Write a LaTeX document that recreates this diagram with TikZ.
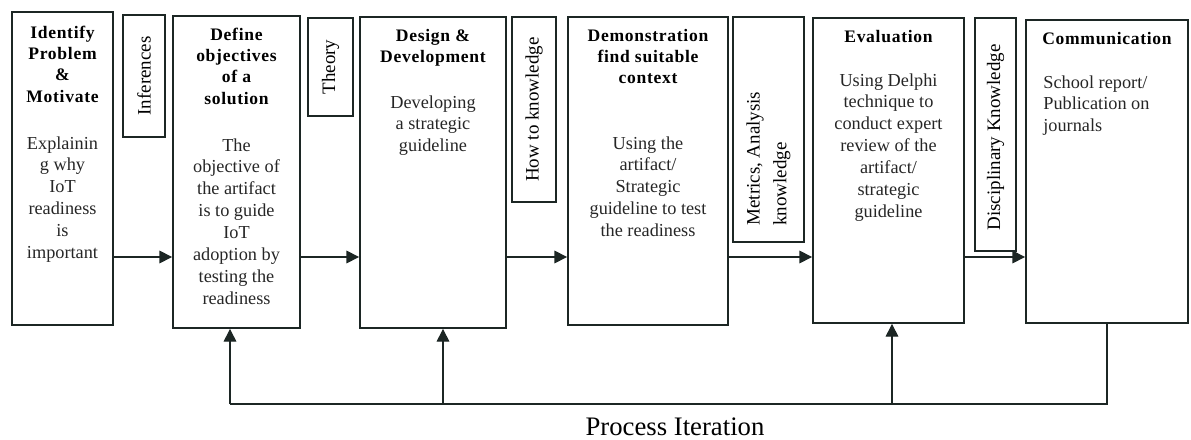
\documentclass[tikz,border=0pt]{standalone}
\usepackage{fontspec}
\setmainfont{Liberation Serif}
\usetikzlibrary{arrows.meta,positioning}

\definecolor{ink}{RGB}{28,38,36}

\begin{document}
\begin{tikzpicture}[
    stage/.style={draw=ink, line width=1.3pt, inner sep=0pt},
    side/.style={draw=ink, line width=1.2pt, inner sep=0pt},
    head/.style={inner sep=0pt, align=center, text=black, font=\fontsize{12.5}{15}\selectfont\bfseries\addfontfeature{LetterSpace=4}},
    body/.style={inner sep=0pt, align=center, text=black!85, font=\fontsize{13}{15.6}\selectfont},
    vlab/.style={rotate=90, inner sep=0pt, align=center, text=black, font=\fontsize{13.5}{19}\selectfont},
    arr/.style={-{Triangle[length=9pt, width=9pt]}, draw=ink, line width=0.9pt},
    loopline/.style={draw=ink, line width=0.8pt}
]
\useasboundingbox (0,0) rectangle (29.775,-11);

% the six stages
\node[stage, minimum width=2.525cm, minimum height=7.825cm] (ident) at (1.5625,-4.2125) {};
\node[stage, minimum width=3.175cm, minimum height=7.8cm] (objct) at (5.9125,-4.3) {};
\node[stage, minimum width=3.65cm, minimum height=7.775cm] (design) at (10.825,-4.3125) {};
\node[stage, minimum width=4.0cm, minimum height=7.7cm] (demo) at (16.2,-4.275) {};
\node[stage, minimum width=3.775cm, minimum height=7.625cm] (evalu) at (22.2125,-4.2625) {};
\node[stage, minimum width=4.05cm, minimum height=7.575cm] (comm) at (27.675,-4.2875) {};

\node[head, below=0.375cm of ident.north] (identh) {Identify\\Problem\\\&\\Motivate};
\node[body, below=3.125cm of ident.north] (identb) {Explainin\\g why\\IoT\\readiness\\is\\important};

\node[head, below=0.325cm of objct.north] (objcth) {Define\\objectives\\of a\\solution};
\node[body, below=3.075cm of objct.north] (objctb) {The\\objective of\\the artifact\\is to guide\\IoT\\adoption by\\testing the\\readiness};

\node[head, below=0.325cm of design.north] (designh) {Design \&\\Development};
\node[body, below=1.975cm of design.north] (designb) {Developing\\a strategic\\guideline};

\node[head, below=0.325cm of demo.north] (demoh) {Demonstration\\find suitable\\context};
\node[body, below=3.0cm of demo.north] (demob) {Using the\\artifact/\\Strategic\\guideline to test\\the readiness};

\node[head, below=0.325cm of evalu.north] (evaluh) {Evaluation};
\node[body, below=1.4cm of evalu.north] (evalub) {Using Delphi\\technique to\\conduct expert\\review of the\\artifact/\\strategic\\guideline};

\node[head, below=0.325cm of comm.north] (commh) {Communication};
\node[body, align=left, below right=1.4cm and 0.45cm of comm.north west] (commb) {School report/\\Publication on\\journals};

% knowledge boxes between the stages
\node[side, minimum width=1.05cm, minimum height=3.05cm] (infer) at (3.6,-1.9) {};
\node[side, minimum width=1.125cm, minimum height=2.45cm] (theory) at (8.2625,-1.675) {};
\node[side, minimum width=1.1cm, minimum height=4.625cm] (howto) at (13.35,-2.7375) {};
\node[side, minimum width=1.775cm, minimum height=5.625cm] (metric) at (19.2125,-3.2375) {};
\node[side, minimum width=1.025cm, minimum height=5.825cm] (discip) at (24.8875,-3.3625) {};

\node[vlab] (inferl) at (infer) {Inferences};
\node[vlab] (theoryl) at (theory) {Theory};
\node[vlab] (howtol) at (howto) {How to knowledge};
\node[vlab, align=left, anchor=west] (metricl) at ([yshift=0.425cm]metric.south) {Metrics, Analysis\\knowledge};
\node[vlab] (discipl) at ([yshift=-0.075cm]discip) {Disciplinary Knowledge};

% forward flow
\coordinate (lane) at (0,-6.425);
\draw[arr] (ident.east |- lane) -- (objct.west |- lane);
\draw[arr] (objct.east |- lane) -- (design.west |- lane);
\draw[arr] (design.east |- lane) -- (demo.west |- lane);
\draw[arr] (demo.east |- lane) -- (evalu.west |- lane);
\draw[arr] (evalu.east |- lane) -- (comm.west |- lane);

% iteration loop
\coordinate (base) at (0,-10.1);
\coordinate (back2) at (5.75,-10.1);
\coordinate (back3) at (11.075,-10.1);
\coordinate (back5) at (22.3,-10.1);
\draw[loopline] (comm.south) -- (comm.south |- base) -- (back2);
\draw[arr, line width=0.8pt] (back2) -- (back2 |- objct.south);
\draw[arr, line width=0.8pt] (back3) -- (back3 |- design.south);
\draw[arr, line width=0.8pt] (back5) -- (back5 |- evalu.south);

\node[font=\fontsize{19}{21}\selectfont] (iter) at (16.875,-10.675) {Process Iteration};
\end{tikzpicture}
\end{document}
